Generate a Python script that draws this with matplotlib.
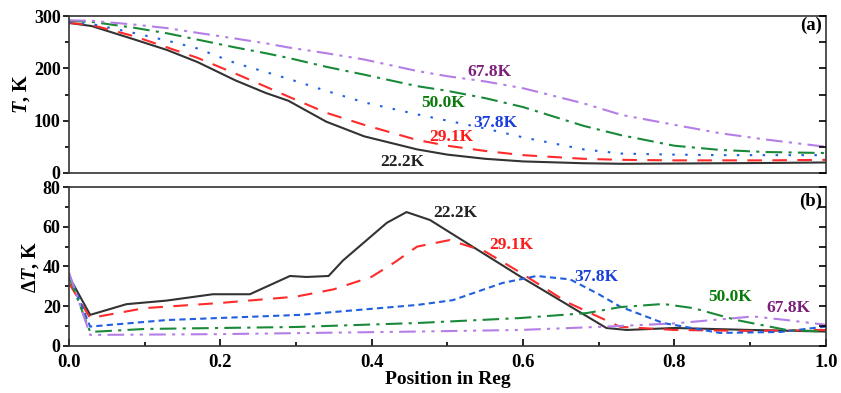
import matplotlib
matplotlib.use("Agg")
import matplotlib.pyplot as plt

plt.rcParams['font.family'] = 'Liberation Serif'
plt.rcParams['font.weight'] = 'bold'
plt.rcParams['mathtext.fontset'] = 'custom'
plt.rcParams['mathtext.it'] = 'Liberation Serif:italic:bold'
plt.rcParams['mathtext.rm'] = 'Liberation Serif:bold'

# ---- panel (a): temperature along the regenerator ----
xa = [0, 0.03, 0.085, 0.13, 0.17, 0.22, 0.26, 0.29, 0.34, 0.39, 0.46,
      0.5, 0.55, 0.6, 0.68, 0.73, 0.8, 0.86, 0.92, 1.0]
T_222 = [287, 281, 256, 235, 212, 177, 153, 138, 98, 70, 45,
         35, 27, 22, 18.5, 17.5, 18, 18.5, 19, 20]
T_291 = [287, 283, 262, 240, 220, 190, 165, 146, 115, 92, 63,
         52, 42, 34, 27, 25, 24, 24, 24, 25]
T_378 = [288, 285, 268, 253, 238, 210, 193, 180, 157, 135, 112,
         100, 85, 68, 45, 37, 35, 34, 34, 34]
T_500 = [291, 289, 278, 267, 255, 240, 229, 220, 203, 188, 166,
         157, 143, 126, 90, 72, 52, 44, 40, 38]
T_678 = [292, 291, 284, 277, 268, 257, 248, 240, 229, 217, 195,
         185, 175, 162, 133, 111, 92, 76, 64, 50]

# ---- panel (b): temperature difference ----
xb_222 = [0, 0.028, 0.076, 0.129, 0.19, 0.239, 0.292, 0.314, 0.343, 0.362,
          0.42, 0.446, 0.477, 0.596, 0.71, 0.737, 0.8, 0.9, 1.0]
dT_222 = [35, 15.6, 21, 22.8, 26, 26, 35.2, 34.7, 35.2, 43,
          62, 67.4, 63.4, 35, 9, 8, 9, 8, 7.2]
xb_291 = [0, 0.028, 0.1, 0.2, 0.3, 0.35, 0.4, 0.43, 0.46, 0.503,
          0.55, 0.596, 0.658, 0.728, 0.8, 0.9, 1.0]
dT_291 = [31.6, 14, 19, 21.6, 24.8, 28.5, 34.8, 42, 50, 53.3,
          47.5, 37, 22, 9.6, 8, 7.5, 8]
xb_378 = [0, 0.028, 0.129, 0.305, 0.46, 0.507, 0.573, 0.618, 0.662, 0.7,
          0.728, 0.785, 0.86, 0.94, 1.0]
dT_378 = [36, 9.7, 13, 15.6, 20.6, 23, 31.7, 35.2, 33.5, 26,
          19.8, 11.5, 6.5, 7, 9.7]
xb_500 = [0, 0.028, 0.1, 0.2, 0.3, 0.46, 0.596, 0.684, 0.728, 0.785,
          0.825, 0.882, 0.948, 1.0]
dT_500 = [35, 7, 8.5, 9, 9.5, 11.5, 14, 16.5, 19.5, 21.1,
          19, 13, 8, 7.2]
xb_678 = [0, 0.028, 0.2, 0.46, 0.596, 0.71, 0.8, 0.904, 0.948, 1.0]
dT_678 = [37, 5.5, 5.9, 7.2, 8, 9.7, 11.3, 14.8, 13, 10.6]

labels = ["22.2K", "29.1K", "37.8K", "50.0K", "67.8K"]
line_colors = ["#333333", "#ff2a2a", "#1f5fe0", "#1a8a3a", "#b57ee6"]
text_colors = ["#222222", "#ff1a1a", "#1a3fd8", "#0a7a0a", "#7b1f7b"]

fig = plt.figure(figsize=(8.41, 3.93), dpi=100)
ax1 = fig.add_axes([0.082, 0.560, 0.900, 0.399])
ax2 = fig.add_axes([0.082, 0.120, 0.900, 0.404])

lw = 1.5
ax1.plot(xa, T_222, color=line_colors[0], lw=lw)
ax1.plot(xa, T_291, color=line_colors[1], lw=lw, dashes=(7, 5))
ax1.plot(xa, T_378, color=line_colors[2], lw=lw, dashes=(1.2, 5))
ax1.plot(xa, T_500, color=line_colors[3], lw=lw, dashes=(8, 3, 1.5, 3))
ax1.plot(xa, T_678, color=line_colors[4], lw=lw, dashes=(8, 3, 1.5, 3, 1.5, 3))

ax2.plot(xb_222, dT_222, color=line_colors[0], lw=lw)
ax2.plot(xb_291, dT_291, color=line_colors[1], lw=lw, dashes=(7, 5))
ax2.plot(xb_378, dT_378, color=line_colors[2], lw=lw, dashes=(3, 2))
ax2.plot(xb_500, dT_500, color=line_colors[3], lw=lw, dashes=(8, 3, 1.5, 3))
ax2.plot(xb_678, dT_678, color=line_colors[4], lw=lw, dashes=(8, 3, 1.5, 3, 1.5, 3))

# curve labels
pos_a = [(0.44, 21), (0.505, 69), (0.563, 96), (0.494, 134), (0.556, 193)]
pos_b = [(0.51, 67), (0.584, 51), (0.697, 34.7), (0.873, 24.7), (0.95, 19)]
for lab, c, p in zip(labels, text_colors, pos_a):
    ax1.text(p[0], p[1], lab, color=c, fontsize=12.5, fontweight='bold',
             ha='center', va='center')
for lab, c, p in zip(labels, text_colors, pos_b):
    ax2.text(p[0], p[1], lab, color=c, fontsize=12.5, fontweight='bold',
             ha='center', va='center')

ax1.text(0.995, 283, "(a)", fontsize=13.5, fontweight='bold', ha='right', va='center')
ax2.text(0.995, 73, "(b)", fontsize=13.5, fontweight='bold', ha='right', va='center')

ax1.set_xlim(0, 1)
ax1.set_ylim(0, 300)
ax1.set_yticks([0, 100, 200, 300])
ax1.set_yticks([50, 150, 250], minor=True)
ax1.set_xticks([])
ax1.set_ylabel("$T$, K", fontsize=14.5, fontweight='bold', labelpad=1)

ax2.set_xlim(0, 1)
ax2.set_ylim(0, 80)
ax2.set_yticks([0, 20, 40, 60, 80])
ax2.set_yticks([10, 30, 50, 70], minor=True)
ax2.set_xticks([0, 0.2, 0.4, 0.6, 0.8, 1.0])
ax2.set_xticks([0.1, 0.3, 0.5, 0.7, 0.9], minor=True)
ax2.set_xticklabels(["0.0", "0.2", "0.4", "0.6", "0.8", "1.0"])
ax2.set_ylabel(r"$\mathit{ΔT}$, K", fontsize=14.5, fontweight='bold', labelpad=1)
ax2.set_xlabel("Position in Reg", fontsize=14, fontweight='bold', labelpad=0)

for ax in (ax1, ax2):
    for s in ax.spines.values():
        s.set_linewidth(1.2)
        s.set_color("#333333")
    ax.tick_params(axis='y', which='major', direction='out', length=4, width=1.2,
                   labelsize=13, pad=2)
    ax.tick_params(axis='y', which='minor', direction='out', length=3, width=1.2)
ax2.tick_params(axis='x', which='major', direction='in', length=5, width=1.2,
                labelsize=13.5, pad=6)
ax2.tick_params(axis='x', which='minor', direction='in', length=3, width=1.2)

# right-side inward ticks
for ax, lim, step in ((ax1, 300, 50), (ax2, 80, 10)):
    tw = ax.twinx()
    tw.set_ylim(0, lim)
    tw.set_yticks(list(range(0, lim + 1, step)))
    tw.tick_params(axis='y', direction='in', length=5, width=1.2, labelright=False)
    for s in tw.spines.values():
        s.set_visible(False)

for lab in ax1.get_yticklabels() + ax2.get_yticklabels() + ax2.get_xticklabels():
    lab.set_fontweight('bold')

fig.savefig("out.png", dpi=100)
